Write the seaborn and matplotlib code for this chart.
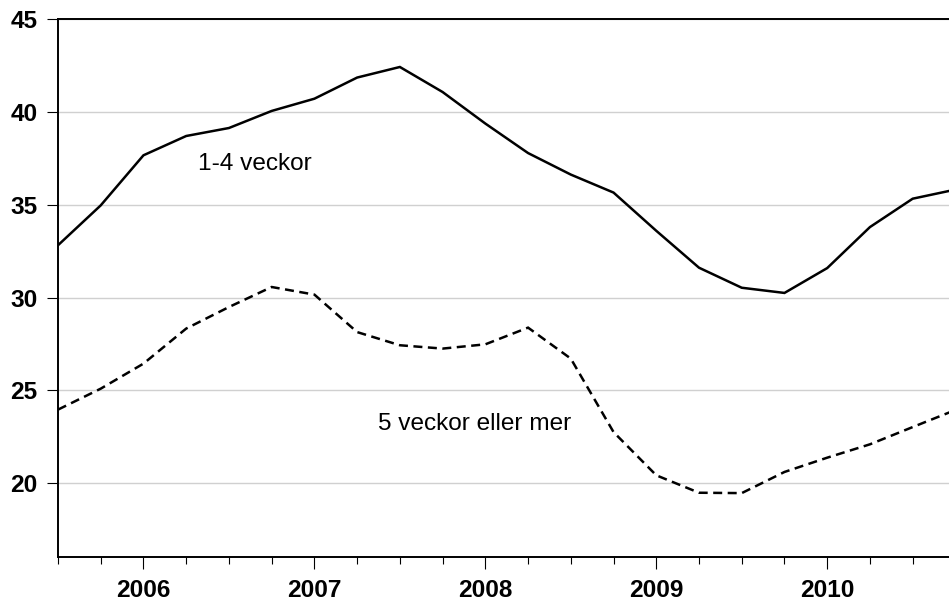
import matplotlib
matplotlib.use("Agg")
import matplotlib.pyplot as plt
from matplotlib.ticker import MultipleLocator
import seaborn as sns
import pandas as pd

# ---- data ----
quarters = ["2005Q3", "2005Q4",
            "2006Q1", "2006Q2", "2006Q3", "2006Q4",
            "2007Q1", "2007Q2", "2007Q3", "2007Q4",
            "2008Q1", "2008Q2", "2008Q3", "2008Q4",
            "2009Q1", "2009Q2", "2009Q3", "2009Q4",
            "2010Q1", "2010Q2", "2010Q3", "2010Q4"]
weeks_1_4 = [32.82, 34.97, 37.67, 38.71, 39.14, 40.06, 40.72, 41.86, 42.43, 41.08,
             39.38, 37.79, 36.63, 35.66, 33.60, 31.61, 30.53, 30.25, 31.59, 33.80,
             35.33, 35.82]
weeks_5_plus = [23.96, 25.09, 26.44, 28.33, 29.49, 30.57, 30.16, 28.14, 27.43, 27.25,
                27.48, 28.38, 26.71, 22.75, 20.42, 19.48, 19.46, 20.60, 21.37, 22.09,
                23.02, 23.94]
series_labels = ["1-4 veckor", "5 veckor eller mer"]
year_ticks = [2006, 2007, 2008, 2009, 2010]
year_labels = ["2006", "2007", "2008", "2009", "2010"]
y_ticks = [20, 25, 30, 35, 40, 45]

# decimal time for each quarter (start of quarter)
t = [int(q[:4]) + (int(q[-1]) - 1) / 4 for q in quarters]

df = pd.DataFrame({
    "t": t * 2,
    "value": weeks_1_4 + weeks_5_plus,
    "series": [series_labels[0]] * len(t) + [series_labels[1]] * len(t),
})

sns.set_style("white")
plt.rcParams["font.family"] = ["Liberation Sans", "DejaVu Sans"]
plt.rcParams["text.color"] = "black"
plt.rcParams["xtick.color"] = "black"
plt.rcParams["ytick.color"] = "black"
plt.rcParams["xtick.labelcolor"] = "black"
plt.rcParams["ytick.labelcolor"] = "black"
FS = 17.6

fig = plt.figure(figsize=(9.49, 6.02), dpi=100)
ax = fig.add_axes([58 / 949, 1 - 557.3 / 602, 1 - 58 / 949, (557.3 - 19.3) / 602])

sns.lineplot(data=df, x="t", y="value", hue="series", style="series",
             palette=["black", "black"], dashes=[(None, None), (3.6, 2.2)],
             linewidth=1.8, legend=False, ax=ax)
for ln in ax.get_lines():
    ln.set_solid_joinstyle("miter")
    ln.set_dash_joinstyle("miter")
    ln.set_dash_capstyle("butt")
ax.lines[0].set_linestyle("-")

ax.set_xlim(2005.5, 2010.7125)
ax.set_ylim(16, 45)

ax.set_yticks(y_ticks)
ax.set_yticklabels([str(v) for v in y_ticks], fontsize=FS, fontweight="bold",
                   color="black")
ax.set_xticks(year_ticks)
ax.set_xticklabels(year_labels, fontsize=FS, fontweight="bold", color="black")
ax.xaxis.set_minor_locator(MultipleLocator(0.25))

ax.tick_params(axis="y", which="major", direction="out", length=7.7, width=0.8,
               color="black", pad=7, left=True)
ax.tick_params(axis="x", which="major", direction="out", length=8.6, width=0.8,
               color="black", pad=7, bottom=True)
ax.tick_params(axis="x", which="minor", direction="out", length=4.8, width=0.8,
               color="black", bottom=True)

ax.set_xlabel("")
ax.set_ylabel("")

ax.yaxis.grid(True, color="#d0d0d0", linewidth=1.0)
ax.xaxis.grid(False)
ax.set_axisbelow(True)

for side in ["left", "bottom", "top"]:
    ax.spines[side].set_visible(True)
    ax.spines[side].set_color("black")
    ax.spines[side].set_linewidth(1.4)
ax.spines["right"].set_visible(False)

ax.text(2006.32, 36.9, series_labels[0], fontsize=FS, ha="left", va="baseline",
        color="black")
ax.text(2007.374, 22.84, series_labels[1], fontsize=FS, ha="left", va="baseline",
        color="black")

fig.savefig("out.png", dpi=100)
